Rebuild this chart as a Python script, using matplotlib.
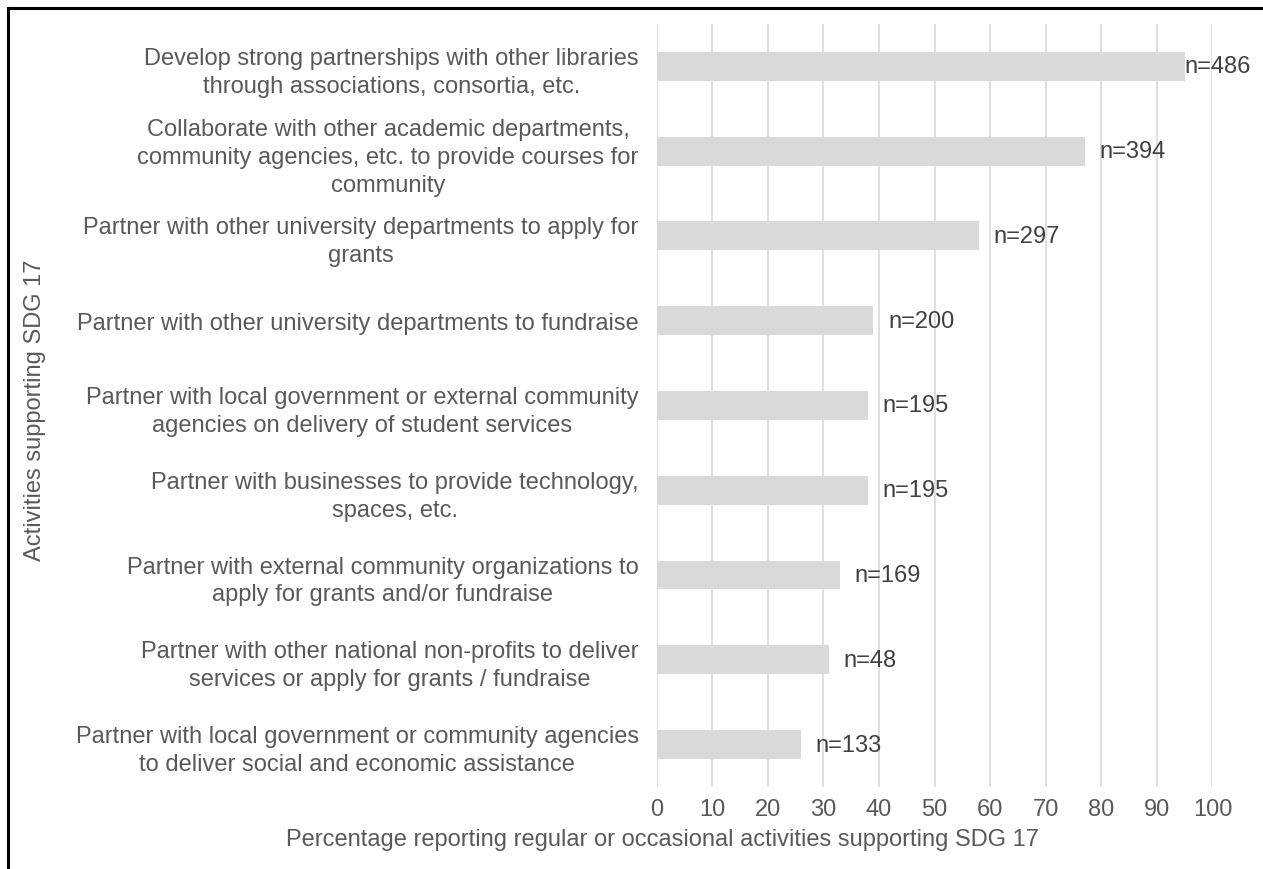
import matplotlib.pyplot as plt
from matplotlib.lines import Line2D

activities = [
    "Develop strong partnerships with other libraries\nthrough associations, consortia, etc.",
    "Collaborate with other academic departments,\ncommunity agencies, etc. to provide courses for\ncommunity",
    "Partner with other university departments to apply for\ngrants",
    "Partner with other university departments to fundraise",
    "Partner with local government or external community\nagencies on delivery of student services",
    "Partner with businesses to provide technology,\nspaces, etc.",
    "Partner with external community organizations to\napply for grants and/or fundraise",
    "Partner with other national non-profits to deliver\nservices or apply for grants / fundraise",
    "Partner with local government or community agencies\nto deliver social and economic assistance",
]
percent = [95, 77, 58, 39, 38, 38, 33, 31, 26]
n_labels = ["n=486", "n=394", "n=297", "n=200", "n=195", "n=195", "n=169", "n=48", "n=133"]

plt.rcParams['font.family'] = ['Liberation Sans', 'DejaVu Sans']
text_col = '#595959'
bar_col = '#d9d9d9'
fs = 17

fig = plt.figure(figsize=(12.63, 8.70), dpi=100)
ax = fig.add_axes([0.520, 0.0943, 0.440, 0.8770])

ypos = list(range(len(activities)))
ax.barh(ypos, percent, height=0.34, color=bar_col, zorder=2)
for y, v, lab in zip(ypos, percent, n_labels):
    ax.text(min(v + 2.6, 95), y, lab, va='center', ha='left', fontsize=fs, color='#404040', zorder=3)

ax.set_xlim(0, 100)
ax.set_ylim(len(activities) - 0.5, -0.5)
ax.set_xticks(range(0, 101, 10))
ax.set_yticks(ypos)
ax.set_yticklabels(activities, ha='right', multialignment='center', linespacing=1.35)
ax.tick_params(axis='both', length=0, labelsize=fs, labelcolor=text_col)
ax.tick_params(axis='y', pad=13)
ax.tick_params(axis='x', pad=8)
ax.grid(axis='x', color='#dcdcdc', linewidth=1.3, zorder=0)
ax.set_axisbelow(True)
for s in ax.spines.values():
    s.set_visible(False)

fig.text(663 / 1263, 1 - 840 / 870, "Percentage reporting regular or occasional activities supporting SDG 17",
         ha='center', va='center', fontsize=fs, color=text_col)
fig.text(35 / 1263, 1 - 410 / 870, "Activities supporting SDG 17", rotation=90,
         ha='center', va='center', fontsize=fs, color=text_col)

# frame lines (top and left)
fig.add_artist(Line2D([8 / 1263, 1], [1 - 9 / 870, 1 - 9 / 870], transform=fig.transFigure, color='black', linewidth=2.2))
fig.add_artist(Line2D([8 / 1263, 8 / 1263], [0, 1 - 9 / 870], transform=fig.transFigure, color='black', linewidth=2.2))

fig.savefig("out.png", dpi=100, facecolor='white')
